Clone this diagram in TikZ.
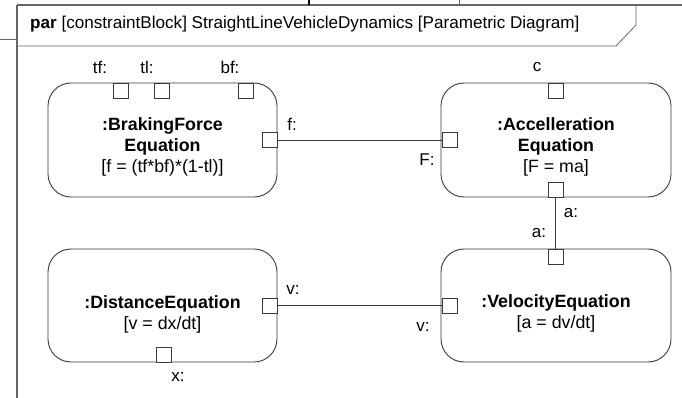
\documentclass[tikz,border=0pt]{standalone}
\usepackage{fontspec}
\setmainfont{Liberation Sans}
\usetikzlibrary{positioning}
\definecolor{linegray}{HTML}{3A3A3A}
\definecolor{framegray}{HTML}{666666}

\begin{document}
\begin{tikzpicture}[x=1pt,y=-1pt,
  blockstyle/.style={draw=linegray,line width=0.9pt,rounded corners=23pt,minimum width=229pt,minimum height=114pt,inner sep=0pt},
  blocktext/.style={align=center,inner sep=0pt,font=\fontsize{17.8}{21}\selectfont},
  portstyle/.style={draw=linegray,line width=0.9pt,fill=white,minimum size=15pt,inner sep=0pt},
  wirestyle/.style={draw=linegray,line width=0.9pt},
  labelstyle/.style={inner sep=0pt,font=\fontsize{17}{19}\selectfont}]
\useasboundingbox (0,0) rectangle (682,398);

% frame
\draw[framegray,line width=1.2pt] (17,5) -- (682,5) (17,5) -- (17,398);
\draw[framegray,line width=0.8pt] (0,39) -- (17,39);
\draw[black,line width=1.6pt] (309,0) -- (309,5);
\draw[framegray,line width=0.8pt] (459,0) -- (459,5);
\draw[framegray,line width=0.8pt] (17,46) -- (616,46) -- (636,25) -- (636,5);
\node[labelstyle,font=\fontsize{17.1}{19}\selectfont,anchor=west] (title) at (30,24)
  {\textbf{par} [constraintBlock] StraightLineVehicleDynamics [Parametric Diagram]};

% constraint blocks
\node[blockstyle] (brake) at (162.5,140) {};
\node[blockstyle,minimum width=230pt] (accel) at (556,140) {};
\node[blockstyle,minimum height=113pt] (dist) at (162.5,305.5) {};
\node[blockstyle,minimum width=230pt,minimum height=113pt] (velo) at (556,305.5) {};

\node[blocktext] (braket) at (162.5,147) {\textbf{:BrakingForce}\\\textbf{Equation}\\{}[f = (tf*bf)*(1-tl)]};
\node[blocktext] (accelt) at (556,147) {\textbf{:Accelleration}\\\textbf{Equation}\\{}[F = ma]};
\node[blocktext] (distt) at (162.5,314.5) {\textbf{:DistanceEquation}\\{}[v = dx/dt]};
\node[blocktext] (velot) at (556,313.5) {\textbf{:VelocityEquation}\\{}[a = dv/dt]};

% ports
\foreach \name/\x/\y in {tf/121/90.5, tl/162/90.5, bf/245.5/90.5, f/269.5/140,
    c/555.5/90.5, F/449.5/140, aout/555.5/189.5,
    ain/555.5/256.5, vin/449.5/305.5, vout/269.5/305.5, x/163.5/354.5}
  \node[portstyle] (\name) at (\x,\y) {};

% binding connectors
\draw[wirestyle] (f.east) -- (F.west);
\draw[wirestyle] (aout.south) -- (ain.north);
\draw[wirestyle] (vout.east) -- (vin.west);

% port labels
\foreach \name/\x/\y/\txt in {ltf/100/67/tf:, ltl/147/67/tl:, lbf/230/67/bf:, lf/292/124/f:,
    lc/537/67/c, lF/427/160/F:, laout/571/213/a:, lain/539/233/a:,
    lvin/423/327/v:, lvout/293/290/v:, lx/178/377/x:}
  \node[labelstyle] (\name) at (\x,\y) {\txt};
\end{tikzpicture}
\end{document}
